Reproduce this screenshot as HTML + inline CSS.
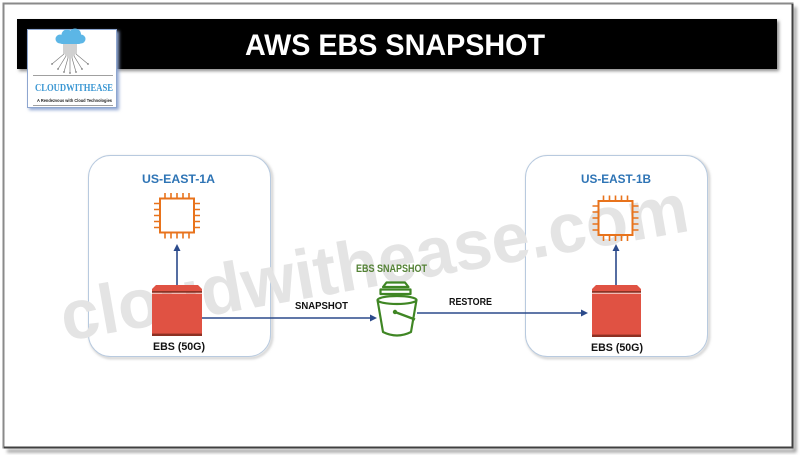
<!DOCTYPE html>
<html><head><meta charset="utf-8"><style>
html,body{margin:0;padding:0;background:#fff;}
svg{display:block;}
text{font-family:"Liberation Sans",sans-serif;}
</style></head><body>
<svg width="800" height="455" viewBox="0 0 800 455" xmlns="http://www.w3.org/2000/svg">
<defs>
<filter id="sh" x="-10%" y="-10%" width="130%" height="130%"><feGaussianBlur stdDeviation="1.5"/></filter>
<filter id="sh2" x="-10%" y="-10%" width="130%" height="130%"><feGaussianBlur stdDeviation="1.2"/></filter>
</defs>
<rect width="800" height="455" fill="#fff"/>

<!-- outer frame -->
<path d="M795 7 V451 H7" fill="none" stroke="#9a9a9a" stroke-width="3" filter="url(#sh)"/>
<rect x="3.5" y="3.5" width="789" height="444" fill="#fff" stroke="#8a8a8a" stroke-width="2"/>
<path d="M792.5 4 V447.5 H4" fill="none" stroke="#404040" stroke-width="2"/>

<!-- title bar -->
<rect x="19" y="21" width="760" height="50" fill="#8a8a8a" filter="url(#sh)"/>
<rect x="17" y="19" width="760" height="50" fill="#000"/>
<text x="245" y="55" font-size="30" font-weight="bold" fill="#fff" textLength="300" lengthAdjust="spacingAndGlyphs">AWS EBS SNAPSHOT</text>

<!-- logo -->
<rect x="29" y="31" width="90" height="79" fill="#8fa6d2" filter="url(#sh)"/>
<rect x="27.5" y="29.5" width="89" height="78" fill="#fff" stroke="#8ea6cf"/>
<g fill="#5cb6e6">
<circle cx="60" cy="39" r="4.5"/>
<circle cx="67" cy="35" r="5.5"/>
<circle cx="75" cy="34.5" r="6"/>
<circle cx="81" cy="39" r="4.5"/>
<rect x="59" y="37" width="23" height="7" rx="3"/>
</g>
<g stroke="#7d7d7d" stroke-width="0.7" fill="none">
<path d="M64 44 V54 L52 64"/>
<path d="M66 44 V56 L58 69"/>
<path d="M68 44 V58 L64 72"/>
<path d="M70 44 V60 V73"/>
<path d="M72 44 V58 L76 72"/>
<path d="M74 44 V56 L82 69"/>
<path d="M76 44 V54 L88 64"/>
</g>
<g fill="#7d7d7d">
<circle cx="52" cy="64" r="0.9"/><circle cx="58" cy="69" r="0.9"/><circle cx="64" cy="72" r="0.9"/>
<circle cx="70" cy="73" r="0.9"/><circle cx="76" cy="72" r="0.9"/><circle cx="82" cy="69" r="0.9"/><circle cx="88" cy="64" r="0.9"/>
</g>
<line x1="33" y1="75.5" x2="113" y2="75.5" stroke="#a0a0a0" stroke-width="1"/>
<text x="35" y="91" font-size="10.5" font-weight="bold" fill="#3b97d3" textLength="78" lengthAdjust="spacingAndGlyphs" style="font-family:'Liberation Serif',serif">CLOUDWITHEASE</text>
<text x="37" y="102" font-size="4.5" font-weight="bold" fill="#222" textLength="75" lengthAdjust="spacingAndGlyphs">A Rendezvous with Cloud Technologies</text>
<line x1="33" y1="105.5" x2="113" y2="105.5" stroke="#a0a0a0" stroke-width="1"/>

<!-- AZ boxes -->
<rect x="90" y="157" width="182" height="201" rx="22" fill="none" stroke="#c4c4c4" stroke-width="2" filter="url(#sh2)"/>
<rect x="88.5" y="155.5" width="182" height="201" rx="22" fill="#fff" stroke="#b8cadf" stroke-width="1"/>
<rect x="527" y="157" width="182" height="201" rx="22" fill="none" stroke="#c4c4c4" stroke-width="2" filter="url(#sh2)"/>
<rect x="525.5" y="155.5" width="182" height="201" rx="22" fill="#fff" stroke="#b8cadf" stroke-width="1"/>

<!-- watermark -->
<text x="65" y="341" transform="rotate(-10 65 341)" font-size="70" font-weight="bold" fill="#e4e4e4" textLength="636" lengthAdjust="spacingAndGlyphs">cloudwithease.com</text>

<!-- labels -->
<text x="142" y="183" font-size="12" font-weight="bold" fill="#2e74b5" textLength="73" lengthAdjust="spacingAndGlyphs">US-EAST-1A</text>
<text x="581" y="183" font-size="12" font-weight="bold" fill="#2e74b5" textLength="70" lengthAdjust="spacingAndGlyphs">US-EAST-1B</text>

<!-- CPU left -->
<g stroke="#e8731c" fill="none">
<rect x="160" y="198.5" width="34" height="34" stroke-width="2"/>
<g stroke-width="1.6">
<path d="M165 193V198M171 193V198M177 193V198M183 193V198M189 193V198"/>
<path d="M165 233V238.5M171 233V238.5M177 233V238.5M183 233V238.5M189 233V238.5"/>
<path d="M154 203.5H159M154 209.5H159M154 215.5H159M154 221.5H159M154 227.5H159"/>
<path d="M195 203.5H200M195 209.5H200M195 215.5H200M195 221.5H200M195 227.5H200"/>
</g>
</g>
<!-- CPU right -->
<g stroke="#e8731c" fill="none">
<rect x="598.5" y="201" width="34" height="34" stroke-width="2"/>
<g stroke-width="1.6">
<path d="M603.5 195.5V200.5M609.5 195.5V200.5M615.5 195.5V200.5M621.5 195.5V200.5M627.5 195.5V200.5"/>
<path d="M603.5 235.5V241M609.5 235.5V241M615.5 235.5V241M621.5 235.5V241M627.5 235.5V241"/>
<path d="M592.5 206H597.5M592.5 212H597.5M592.5 218H597.5M592.5 224H597.5M592.5 230H597.5"/>
<path d="M633.5 206H638.5M633.5 212H638.5M633.5 218H638.5M633.5 224H638.5M633.5 230H638.5"/>
</g>
</g>

<!-- arrows -->
<g stroke="#2b4a8b" stroke-width="1.6" fill="none">
<line x1="177" y1="286" x2="177" y2="250"/>
<line x1="616" y1="286" x2="616" y2="250"/>
<line x1="202" y1="318" x2="371" y2="318"/>
<line x1="417" y1="313" x2="582" y2="313"/>
</g>
<g fill="#2b4a8b">
<polygon points="177,244 173.5,251 180.5,251"/>
<polygon points="616,244 612.5,251 619.5,251"/>
<polygon points="377,318 370,314.5 370,321.5"/>
<polygon points="588,313 581,309.5 581,316.5"/>
</g>

<!-- EBS left -->
<g>
<polygon points="156,285 198,285 202,289 202,291 152,291 152,289" fill="#e05243"/>
<rect x="152" y="291" width="50" height="1.8" fill="#8c3123"/>
<rect x="152" y="293.6" width="50" height="42.4" fill="#e05243"/>
<rect x="152" y="333.6" width="50" height="2.4" fill="#8c3123"/>
</g>
<!-- EBS right -->
<g>
<polygon points="596,285 637,285 641,289 641,291 592,291 592,289" fill="#e05243"/>
<rect x="592" y="291" width="49" height="1.8" fill="#8c3123"/>
<rect x="592" y="293.6" width="49" height="43.4" fill="#e05243"/>
<rect x="592" y="334.6" width="49" height="2.4" fill="#8c3123"/>
</g>

<text x="153" y="350" font-size="11" font-weight="bold" fill="#111" textLength="52" lengthAdjust="spacingAndGlyphs">EBS (50G)</text>
<text x="591" y="351" font-size="11" font-weight="bold" fill="#111" textLength="52" lengthAdjust="spacingAndGlyphs">EBS (50G)</text>

<text x="295" y="309" font-size="10" font-weight="bold" fill="#111" textLength="53" lengthAdjust="spacingAndGlyphs">SNAPSHOT</text>
<text x="449" y="305" font-size="10" font-weight="bold" fill="#111" textLength="43" lengthAdjust="spacingAndGlyphs">RESTORE</text>
<text x="356" y="272" font-size="11" font-weight="bold" fill="#548235" textLength="71" lengthAdjust="spacingAndGlyphs">EBS SNAPSHOT</text>

<!-- bucket -->
<g stroke="#3f8624" fill="none" stroke-width="2.2" stroke-linejoin="round">
<polygon points="386.5,282.5 405,282.5 408.5,287 383,287"/>
<rect x="380.5" y="289.5" width="30" height="4.5"/>
<ellipse cx="397" cy="300" rx="19.5" ry="4"/>
<path d="M377.5 300 L383 332 Q397 339 411 332 L416.5 300"/>
<line x1="395" y1="312" x2="415" y2="319.5" stroke-width="2.5"/>
</g>
<circle cx="395" cy="312" r="2.2" fill="#3f8624"/>
</svg>
</body></html>
